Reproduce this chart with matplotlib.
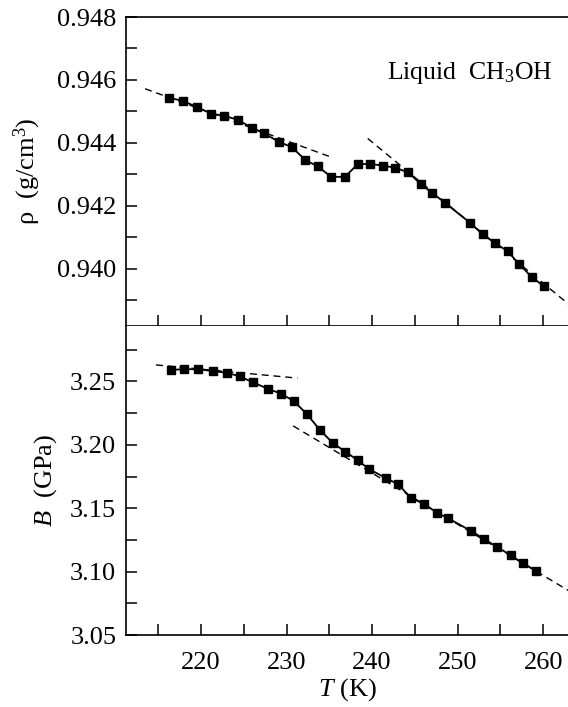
import matplotlib
matplotlib.use("Agg")
import matplotlib.pyplot as plt
import numpy as np

plt.rcParams['font.family'] = ['Liberation Serif', 'DejaVu Serif']
plt.rcParams['mathtext.fontset'] = 'custom'
plt.rcParams['mathtext.rm'] = 'Liberation Serif'
plt.rcParams['mathtext.it'] = 'Liberation Serif:italic'

# Density data
T_rho = [216.25, 217.85, 219.58, 221.18, 222.74, 224.34, 225.94, 227.37, 229.14, 230.65,
         232.21, 233.68, 235.2, 236.84, 238.3, 239.79, 241.22, 242.69, 244.25, 245.68,
         247.03, 248.5, 251.5, 252.93, 254.4, 255.83, 257.18, 258.65, 260.04]
rho = [0.94543, 0.94534, 0.94513, 0.94493, 0.94486, 0.94473, 0.94448, 0.94430, 0.94403, 0.94386,
       0.94345, 0.94325, 0.94292, 0.94292, 0.94332, 0.94333, 0.94328, 0.94321, 0.94306, 0.94269,
       0.94241, 0.94210, 0.94145, 0.94109, 0.94081, 0.94056, 0.94015, 0.93974, 0.93945]
# Density fit lines (dashed)
rho_fit1_T = [213.47, 235.28]
rho_fit1 = [0.94572, 0.94354]
rho_fit2_T = [239.49, 262.99]
rho_fit2 = [0.94414, 0.93887]

# Bulk modulus data
T_B = [216.46, 218.02, 219.7, 221.39, 223.07, 224.55, 226.1, 227.79, 229.31, 230.82,
       232.34, 233.89, 235.41, 236.88, 238.32, 239.66, 241.6, 242.99, 244.55, 246.02,
       247.58, 248.88, 251.62, 253.09, 254.65, 256.21, 257.68, 259.2]
B = [3.2591, 3.2596, 3.2596, 3.2581, 3.2568, 3.2539, 3.2492, 3.2443, 3.2404, 3.2347,
     3.2245, 3.2118, 3.2014, 3.1946, 3.1878, 3.1808, 3.1738, 3.1691, 3.1582, 3.1535,
     3.1465, 3.1421, 3.1319, 3.1257, 3.1192, 3.1129, 3.1064, 3.1005]
B_fit1_T = [214.74, 231.28]
B_fit1 = [3.2630, 3.2526]
B_fit2_T = [230.78, 262.99]
B_fit2 = [3.2149, 3.0849]

rho_ticks = [0.940, 0.942, 0.944, 0.946, 0.948]
B_ticks = [3.05, 3.10, 3.15, 3.20, 3.25]
T_ticks = [220, 230, 240, 250, 260]

fig = plt.figure(figsize=(5.68, 7.07), dpi=100)
ax1 = fig.add_axes([126/568, 1 - 326/707, 1 - 126/568, 309/707])
ax2 = fig.add_axes([126/568, 1 - 635/707, 1 - 126/568, 309/707], sharex=ax1)

fs = 19
for ax in (ax1, ax2):
    ax.spines['right'].set_visible(False)
    for s in ('left', 'top', 'bottom'):
        ax.spines[s].set_linewidth(1.2)
    ax.tick_params(direction='in', which='major', length=8, width=1.1, labelsize=fs, pad=7)
    ax.tick_params(direction='in', which='minor', length=8, width=1.1)
    ax.tick_params(axis='x', which='both', top=False, bottom=True)
    ax.tick_params(axis='y', which='both', right=False)
ax2.spines['top'].set_visible(False)

ax1.set_xlim(211.24, 262.9)
ax1.set_xticks(T_ticks)
ax1.set_xticks([215, 225, 235, 245, 255], minor=True)
ax1.tick_params(axis='x', labelbottom=False)
ax2.tick_params(axis='x', labelbottom=True, pad=12)

ax1.set_ylim(0.93818, 0.948)
ax1.set_yticks(rho_ticks)
ax1.set_yticklabels([f"{v:.3f}" for v in rho_ticks])
ax1.set_yticks([0.939, 0.941, 0.943, 0.945, 0.947], minor=True)

ax2.set_ylim(3.05, 3.2937)
ax2.set_yticks(B_ticks)
ax2.set_yticklabels([f"{v:.2f}" for v in B_ticks])
ax2.set_yticks([3.075, 3.125, 3.175, 3.225, 3.275], minor=True)

mk = dict(color='black', marker='s', markersize=5.8, linewidth=1.3)
dash = dict(color='black', linewidth=1.0, linestyle=(0, (5, 3.5)))

ax1.plot(rho_fit1_T, rho_fit1, **dash)
ax1.plot(rho_fit2_T, rho_fit2, **dash)
ax1.plot(T_rho, rho, **mk)

ax2.plot(B_fit1_T, B_fit1, **dash)
ax2.plot(B_fit2_T, B_fit2, **dash)
ax2.plot(T_B, B, **mk)

ax1.text(0.966, 0.818, r"Liquid  CH$_3$OH", transform=ax1.transAxes, ha='right', va='center', fontsize=18.5)

ax1.set_ylabel("ρ  (g/cm$^3$)", fontsize=fs, labelpad=10)
ax2.set_ylabel(r"$B$  (GPa)", fontsize=fs, labelpad=8)
ax2.set_xlabel(r"$T$ (K)", fontsize=fs, labelpad=2)

fig.savefig("out.png", dpi=100)
